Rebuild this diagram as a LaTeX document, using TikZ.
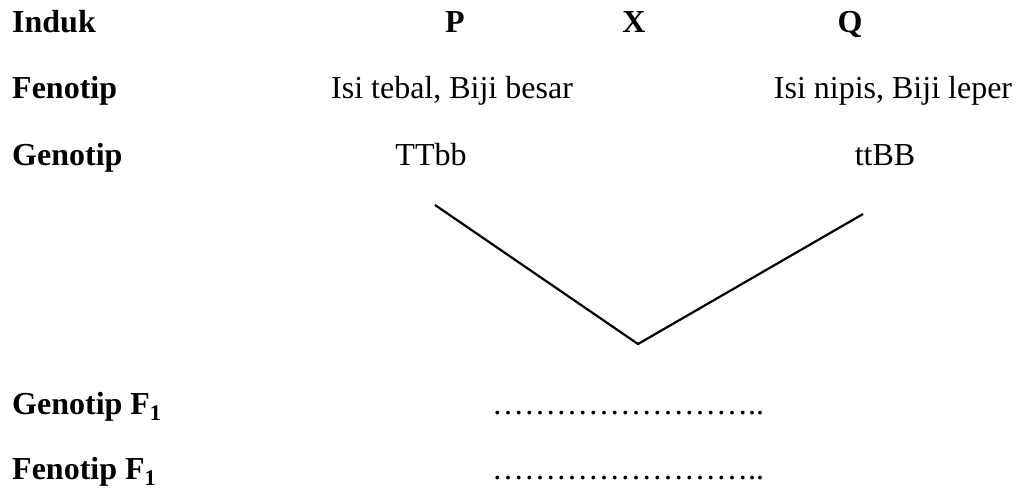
\documentclass[tikz,border=0pt]{standalone}
\usepackage{fontspec}
\setmainfont{Liberation Serif}
\begin{document}
\begin{tikzpicture}[x=1pt,y=1pt,
  txt/.style={inner sep=0pt,font=\fontsize{32}{38}\selectfont},
  lbl/.style={txt,anchor=base west,font=\fontsize{32}{38}\selectfont\bfseries},
  hdr/.style={txt,anchor=base,font=\fontsize{32}{38}\selectfont\bfseries},
  val/.style={txt,anchor=base},
  cross/.style={line width=2.2pt,line join=miter}]
\useasboundingbox (0,0) rectangle (1019,-488);
% row labels
\node[lbl] (induk) at (12,-32) {Induk};
\node[lbl] (fen) at (12,-98) {Fenotip};
\node[lbl] (gen) at (12,-165) {Genotip};
\node[lbl] (genf) at (12,-414) {Genotip F\textsubscript{1}};
\node[lbl] (fenf) at (12,-479) {Fenotip F\textsubscript{1}};
% headers
\node[hdr] (P) at (455,-32) {P};
\node[hdr] (X) at (634,-32) {X};
\node[hdr] (Q) at (850,-32) {Q};
% values
\node[val] (fenP) at (452,-98) {Isi tebal, Biji besar};
\node[val] (fenQ) at (893,-98) {Isi nipis, Biji leper};
\node[val] (genP) at (431,-165) {TTbb};
\node[val] (genQ) at (885,-165) {ttBB};
\node[txt,anchor=base west] (dots1) at (492,-414) {……………………..};
\node[txt,anchor=base west] (dots2) at (492,-479) {……………………..};
% cross lines
\coordinate (a) at (435,-205);
\coordinate (v) at (638,-344);
\coordinate (b) at (863,-214);
\draw[cross] (a) -- (v) -- (b);
\end{tikzpicture}
\end{document}
